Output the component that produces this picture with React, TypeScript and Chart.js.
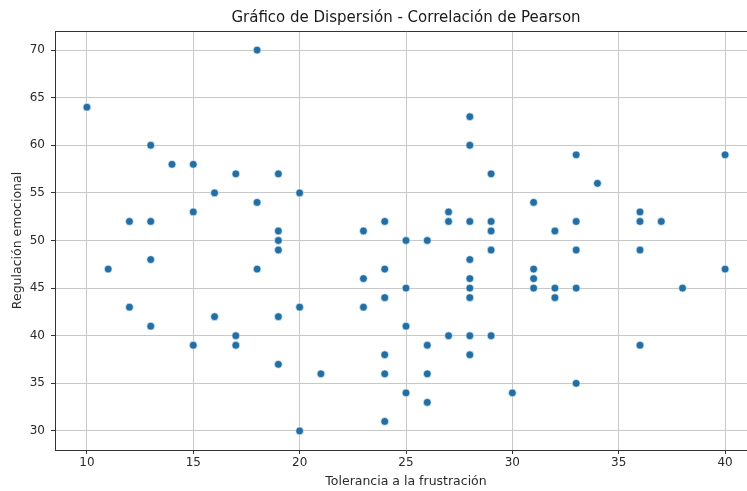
import React, { useEffect, useRef } from "react";
import { Chart, registerables } from "chart.js";

Chart.register(...registerables);

const titleText = "Gráfico de Dispersión - Correlación de Pearson";
const xLabel = "Tolerancia a la frustración";
const yLabel = "Regulación emocional";

const xTicks = [10, 15, 20, 25, 30, 35, 40];
const yTicks = [30, 35, 40, 45, 50, 55, 60, 65, 70];

const toleranciaValues = [
  10, 13, 14, 15, 17, 16, 15, 12, 13,
  11, 13, 12, 13, 16, 15, 17, 17,
  18, 28, 28, 19, 29, 18, 20, 27, 27, 28, 29, 29, 19, 19, 19, 23, 24, 25, 26, 29,
  18, 19, 19, 20, 20, 21, 23, 23, 24, 24, 24, 24, 24, 25, 25, 25, 26, 26, 26, 27, 28, 28, 28, 28, 28, 28, 29,
  33, 40, 34, 31, 36, 36, 37, 33, 32, 33, 36,
  31, 31, 31, 32, 32, 33, 38, 40, 36, 33, 30,
];

const regulacionValues = [
  64, 60, 58, 58, 57, 55, 53, 52, 52,
  47, 48, 43, 41, 42, 39, 40, 39,
  70, 63, 60, 57, 57, 54, 55, 53, 52, 52, 52, 51, 51, 50, 49, 51, 52, 50, 50, 49,
  47, 42, 37, 43, 30, 36, 46, 43, 47, 44, 38, 36, 31, 45, 41, 34, 39, 36, 33, 40, 48, 46, 45, 44, 40, 38, 40,
  59, 59, 56, 54, 53, 52, 52, 52, 51, 49, 49,
  47, 46, 45, 45, 44, 45, 45, 47, 39, 35, 34,
];

const X_MIN = 8.5;
const X_MAX = 41.5;
const Y_MIN = 28;
const Y_MAX = 72;

export default function App() {
  const canvasRef = useRef<HTMLCanvasElement | null>(null);

  useEffect(() => {
    if (!canvasRef.current) return;
    Chart.defaults.font.family = "'DejaVu Sans', sans-serif";
    const points = toleranciaValues.map((x, i) => ({ x, y: regulacionValues[i] }));
    const chart = new Chart(canvasRef.current, {
      type: "scatter",
      data: {
        datasets: [
          {
            data: points,
            backgroundColor: "#1f6fa8",
            borderColor: "#ffffff",
            borderWidth: 0.6,
            pointRadius: 3.9,
            pointHoverRadius: 3.9,
          },
        ],
      },
      options: {
        animation: false,
        responsive: false,
        maintainAspectRatio: false,
        layout: { padding: { left: 0, right: 13, top: 0, bottom: 0 } },
        plugins: {
          legend: { display: false },
          tooltip: { enabled: false },
          title: { display: false },
        },
        scales: {
          x: {
            type: "linear",
            position: "bottom",
            min: X_MIN,
            max: X_MAX,
            afterBuildTicks: (s: any) => {
              s.ticks = xTicks.map((v) => ({ value: v }));
            },
            afterFit: (s: any) => {
              s.height = 41;
            },
            ticks: { color: "#2a2a2a", font: { size: 12 }, padding: 2 },
            grid: { color: "#c8c8c8", lineWidth: 1, tickLength: 4, tickColor: "#333" },
            border: { display: true, color: "#333", width: 1 },
            title: {
              display: true,
              text: xLabel,
              color: "#2a2a2a",
              font: { size: 12.5 },
              padding: { top: 0, bottom: 1.5 },
            },
          },
          x2: {
            type: "linear",
            position: "top",
            min: X_MIN,
            max: X_MAX,
            afterFit: (s: any) => {
              s.height = 31;
            },
            ticks: { display: false },
            grid: { display: false },
            border: { display: true, color: "#333", width: 1 },
            title: {
              display: true,
              text: titleText,
              color: "#1a1a1a",
              font: { size: 15 },
              padding: { top: 9, bottom: 0 },
            },
          },
          y: {
            type: "linear",
            position: "left",
            min: Y_MIN,
            max: Y_MAX,
            afterBuildTicks: (s: any) => {
              s.ticks = yTicks.map((v) => ({ value: v }));
            },
            afterFit: (s: any) => {
              s.width = 55;
            },
            ticks: { color: "#2a2a2a", font: { size: 12 }, padding: 6 },
            grid: { color: "#c8c8c8", lineWidth: 1, tickLength: 4, tickColor: "#333" },
            border: { display: true, color: "#333", width: 1 },
            title: {
              display: true,
              text: yLabel,
              color: "#2a2a2a",
              font: { size: 12.5 },
              padding: { top: 10.5, bottom: 0 },
            },
          },
        },
      },
    });
    return () => chart.destroy();
  }, []);

  return (
    <div
      style={{
        position: "fixed",
        top: 0,
        left: 0,
        width: 747,
        height: 491,
        overflow: "hidden",
        background: "#ffffff",
      }}
    >
      <canvas ref={canvasRef} width={770} height={491} style={{ display: "block" }} />
    </div>
  );
}
